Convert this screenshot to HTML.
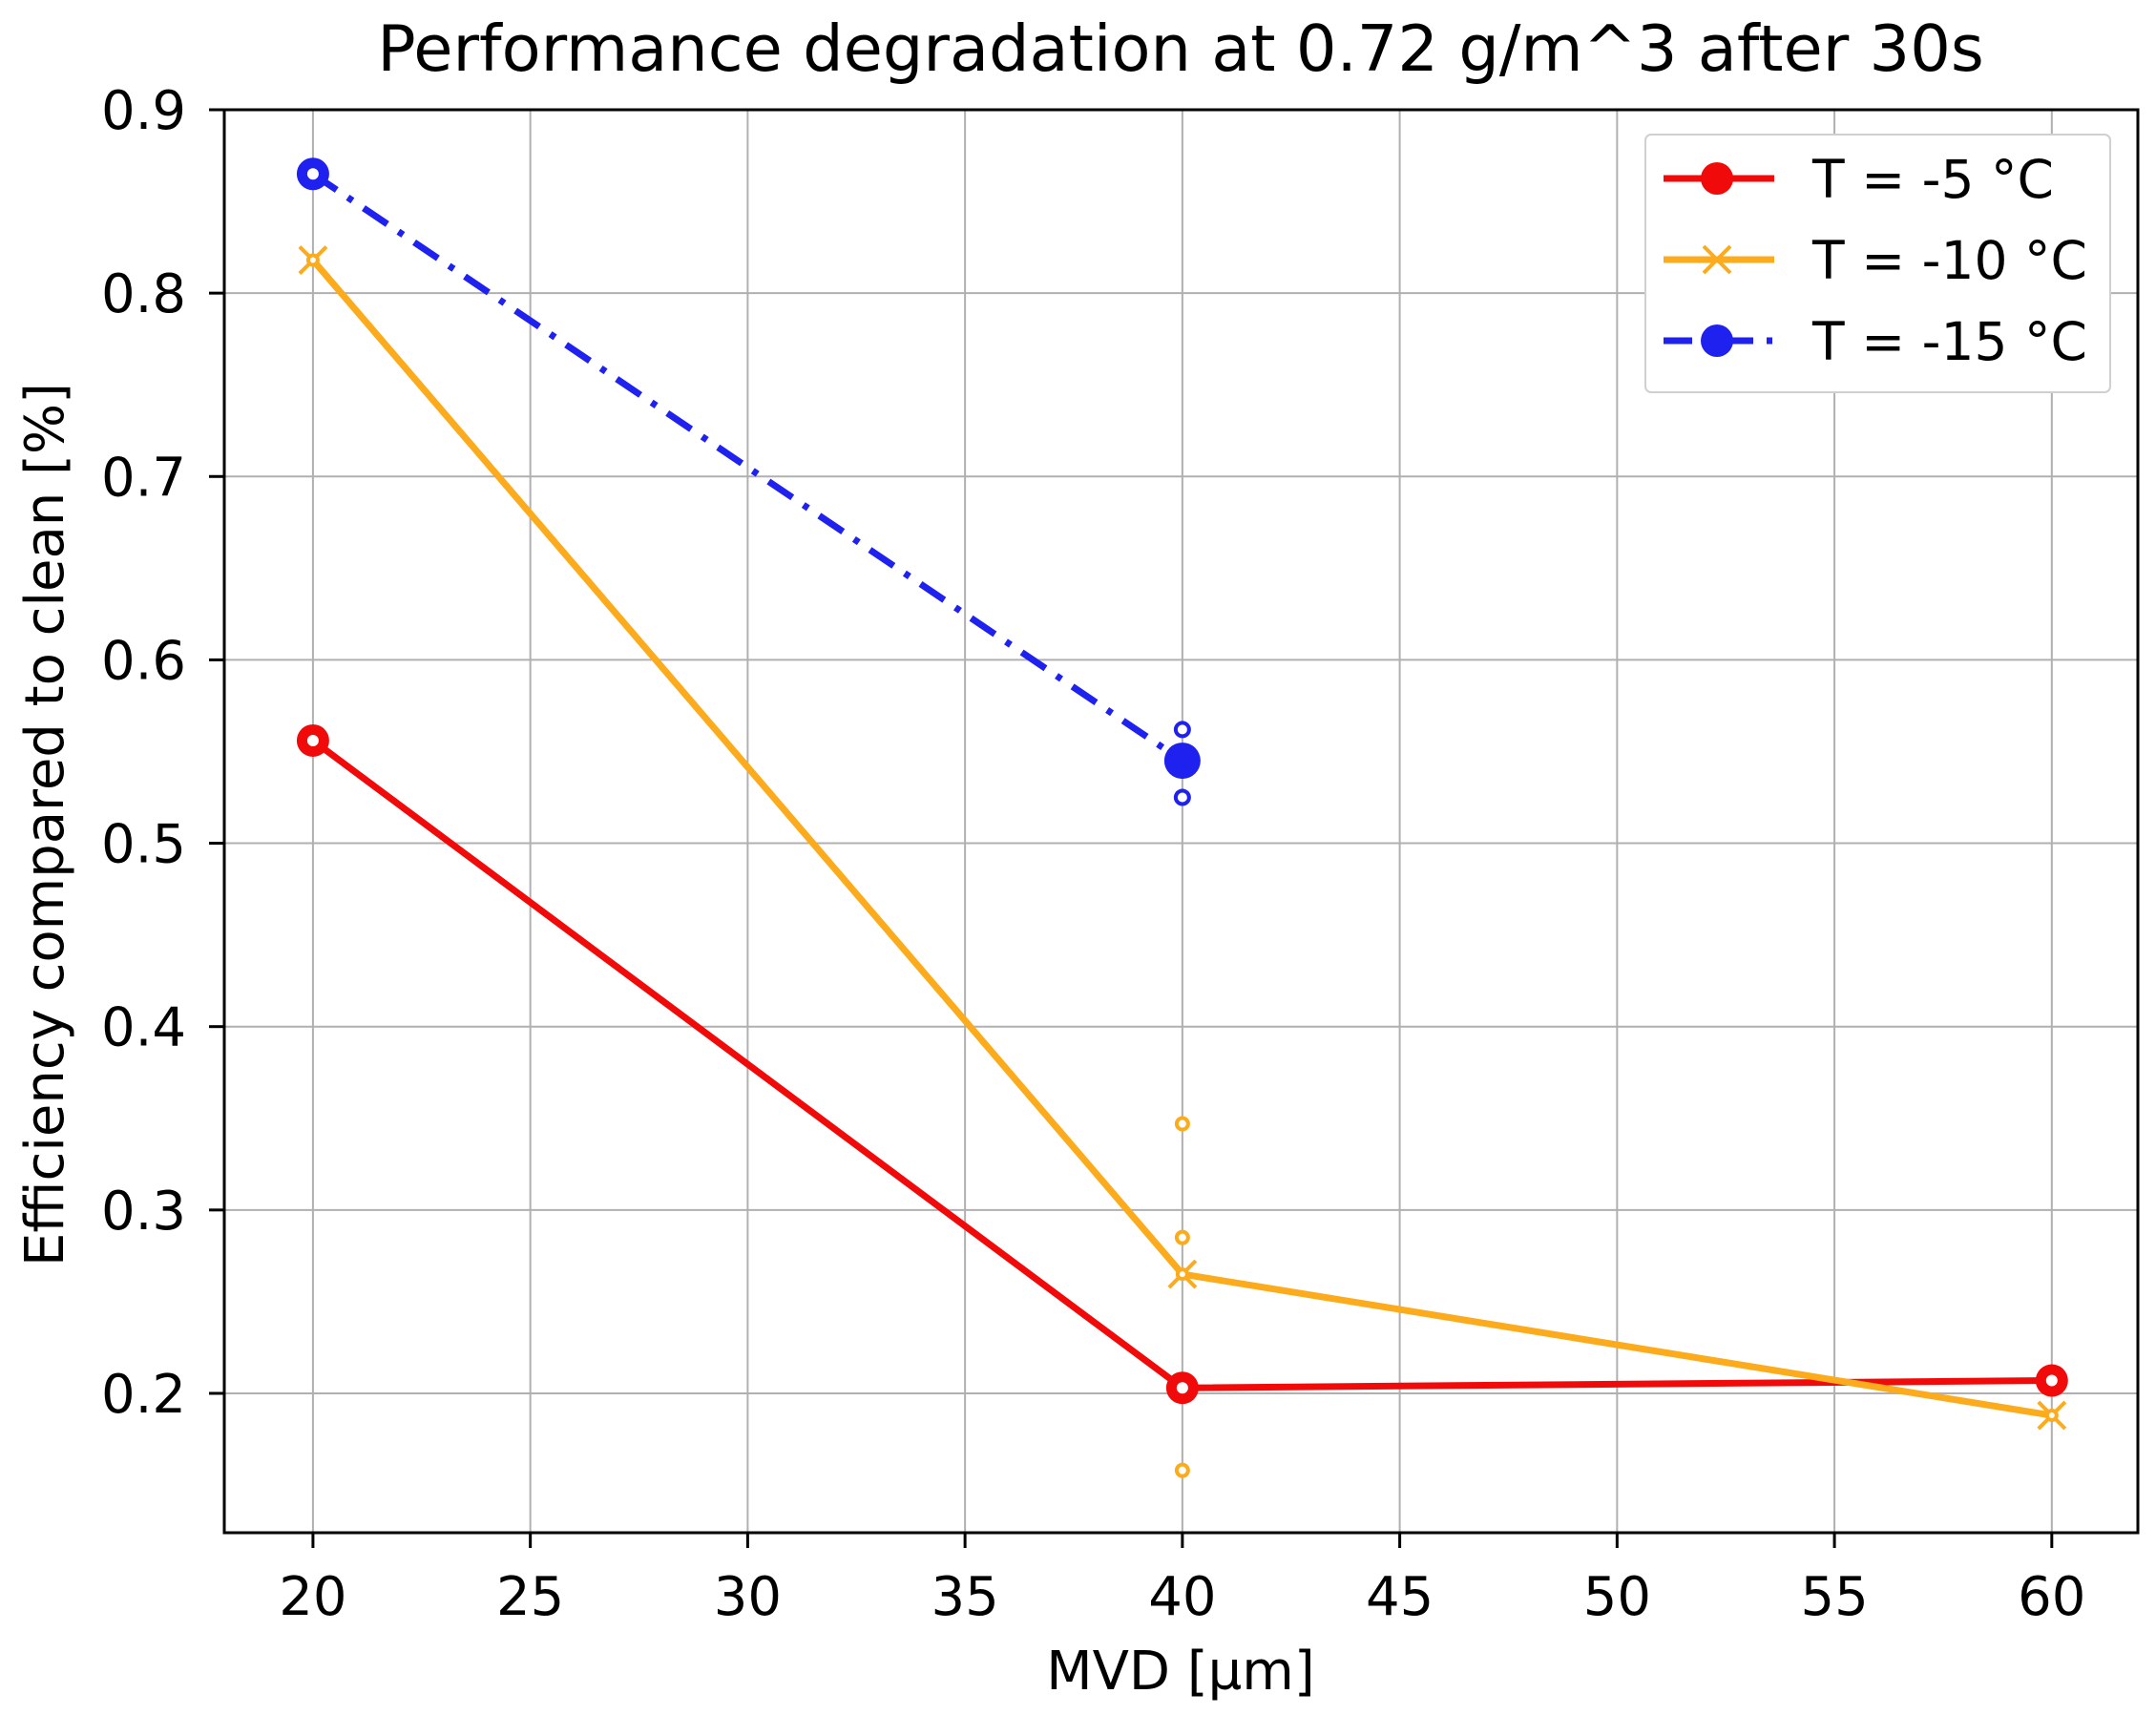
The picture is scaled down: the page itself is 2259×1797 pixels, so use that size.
<!DOCTYPE html>
<html><head><meta charset="utf-8"><style>
html,body{margin:0;padding:0;background:#fff;}
svg{display:block;font-family:"DejaVu Sans","Liberation Sans",sans-serif;}
</style></head><body>
<svg id="chart" width="2259" height="1797" viewBox="0 0 2259 1797" xmlns="http://www.w3.org/2000/svg">
<rect width="2259" height="1797" fill="#fff"/>
<g id="grid"></g>
<g id="series"></g>
<rect x="235" y="115" width="2005" height="1491" fill="none" stroke="#000" stroke-width="3"/>
<g id="ticks"></g>
<text x="1237" y="74" font-size="67" text-anchor="middle">Performance degradation at 0.72 g/m^3 after 30s</text>
<text x="1237" y="1770" font-size="56" text-anchor="middle">MVD [µm]</text>
<text x="0" y="0" font-size="56" text-anchor="middle" transform="translate(66,864) rotate(-90)">Efficiency compared to clean [%]</text>
<g id="legend"></g>
</svg>
<script>
const xTicks=[20,25,30,35,40,45,50,55,60];
const yTicks=[0.2,0.3,0.4,0.5,0.6,0.7,0.8,0.9];
const yTickLabels=["0.2","0.3","0.4","0.5","0.6","0.7","0.8","0.9"];
const redX=[20,40,60];
const redY=[0.556,0.203,0.207];
const orangeX=[20,40,60];
const orangeY=[0.818,0.265,0.188];
const orangeExtraX=[40,40,40];
const orangeExtraY=[0.347,0.285,0.158];
const blueX=[20,40];
const blueY=[0.865,0.545];
const blueExtraX=[40,40];
const blueExtraY=[0.562,0.525];
const legendLabels=["T = -5 °C","T = -10 °C","T = -15 °C"];

const NS="http://www.w3.org/2000/svg";
const X0=235,X1=2240,Y0=1606,Y1=115,XMIN=17.96,XMAX=61.98,YMIN=0.124,YMAX=0.9;
function sx(v){return X0+(v-XMIN)/(XMAX-XMIN)*(X1-X0);}
function sy(v){return Y0-(v-YMIN)/(YMAX-YMIN)*(Y0-Y1);}
function mk(tag,attrs,parent){const e=document.createElementNS(NS,tag);for(const k in attrs)e.setAttribute(k,attrs[k]);parent.appendChild(e);return e;}
const grid=document.getElementById('grid'),ticks=document.getElementById('ticks'),ser=document.getElementById('series'),leg=document.getElementById('legend');
xTicks.forEach(t=>{
  const g=mk('line',{x1:sx(t),x2:sx(t),y1:Y1,y2:Y0,stroke:'#b0b0b0','stroke-width':2},grid);
  
  
  const tk=mk('line',{x1:sx(t),x2:sx(t),y1:Y0,y2:Y0+16,stroke:'#000','stroke-width':3},ticks);
  
  
  const tx=mk('text',{x:sx(t),y:Y0+86,'font-size':56,'text-anchor':'middle'},ticks);
  
  
  tx.textContent=String(t);
});
yTicks.forEach((t,i)=>{
  const g=mk('line',{x1:X0,x2:X1,y1:sy(t),y2:sy(t),stroke:'#b0b0b0','stroke-width':2},grid);
  
  
  const tk=mk('line',{x1:X0-16,x2:X0,y1:sy(t),y2:sy(t),stroke:'#000','stroke-width':3},ticks);
  
  
  const tx=mk('text',{x:X0-40,y:sy(t)+20,'font-size':56,'text-anchor':'end'},ticks);
  
  
  tx.textContent=yTickLabels[i];
});
function line(xs,ys,color,dash,name){
  const p=mk('polyline',{points:xs.map((x,i)=>sx(x)+','+sy(ys[i])).join(' '),fill:'none',stroke:color,'stroke-width':7,'stroke-dasharray':dash||'none','stroke-linejoin':'round'},ser);
  
  
}
function circ(x,y,r,color,hole,name,parent){
  const c=mk('circle',{cx:x,cy:y,r:r,fill:color},parent||ser);
  
  
  if(hole){mk('circle',{cx:x,cy:y,r:hole,fill:'#fff'},parent||ser);}
}
function cross(x,y,s,color,name,parent){
  const p=mk('path',{d:`M${x-s},${y-s}L${x+s},${y+s}M${x-s},${y+s}L${x+s},${y-s}`,stroke:color,'stroke-width':4,fill:'none'},parent||ser);
  
  
}
const RED='#f00a0a',OR='#fbab1c',BL='#1f22ee';
line(redX,redY,RED,null,'series-minus5-line');
line(orangeX,orangeY,OR,null,'series-minus10-line');
line(blueX,blueY,BL,'30,14,6,14','series-minus15-line');
redX.forEach((x,i)=>circ(sx(x),sy(redY[i]),17,RED,6,'point-minus5'));
orangeX.forEach((x,i)=>{cross(sx(x),sy(orangeY[i]),14,OR,'point-minus10');circ(sx(x),sy(orangeY[i]),7,OR,3,'point-minus10-center');});
orangeExtraX.forEach((x,i)=>circ(sx(x),sy(orangeExtraY[i]),8,OR,4,'spread-minus10'));
circ(sx(blueX[0]),sy(blueY[0]),17,BL,6,'point-minus15');
circ(sx(blueX[1]),sy(blueY[1]),19,BL,0,'point-minus15');
blueExtraX.forEach((x,i)=>circ(sx(x),sy(blueExtraY[i]),9,BL,5,'spread-minus15'));
const lb=mk('rect',{x:1724,y:141,width:487,height:270,rx:6,fill:'#fff',stroke:'#d0d0d0','stroke-width':2},leg);


const ly=[187,272,357],cols=[RED,OR,BL],dashes=['none','none','30,14,6,14'];
legendLabels.forEach((lab,i)=>{
  const g=mk('g',{},leg);
  
  
  mk('line',{x1:1743,x2:1859,y1:ly[i],y2:ly[i],stroke:cols[i],'stroke-width':7,'stroke-dasharray':dashes[i]},g);
  if(i===1)cross(1799,ly[i],14,OR,'legend-marker',g);else circ(1799,ly[i],17,cols[i],0,'legend-marker',g);
  const t=mk('text',{x:1899,y:ly[i]+20,'font-size':55},g);
  
  
  t.textContent=lab;
});
</script>
</body></html>
